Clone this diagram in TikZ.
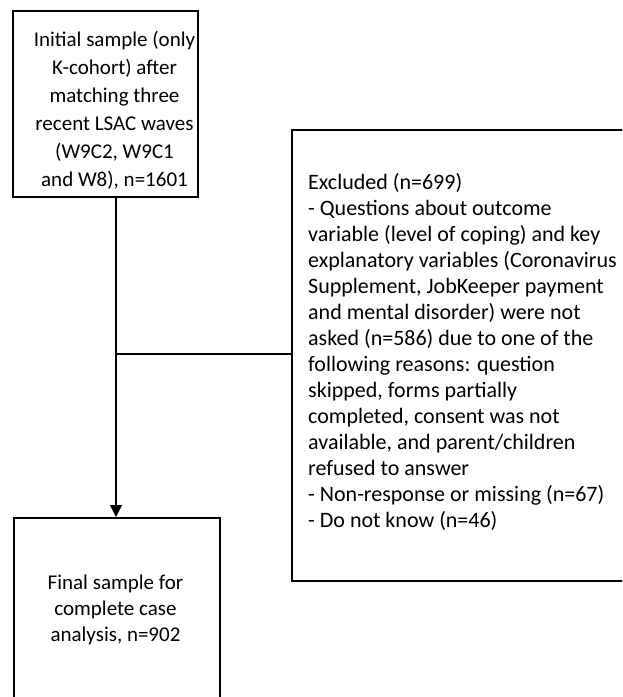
\documentclass[tikz,border=0pt]{standalone}
\usepackage{fontspec}
\setmainfont{Carlito}
\usetikzlibrary{arrows.meta}
\begin{document}
\begin{tikzpicture}[x=1pt,y=-1pt,
  box/.style={draw, line width=1.5pt, inner sep=0pt, rectangle},
  txt/.style={inner sep=0pt, font=\fontsize{21}{26}\selectfont},
  conn/.style={line width=1.4pt},
  arr/.style={conn, -{Triangle[width=12pt,length=12pt]}}]
\useasboundingbox (0,0) rectangle (622,697);
\clip (0,0) rectangle (622,697);
% boxes
\node[box, anchor=north west, minimum width=185pt, minimum height=186pt] (top) at (12,10) {};
\node[box, anchor=north west, minimum width=360pt, minimum height=451pt] (excl) at (291,129) {};
\node[box, anchor=north west, minimum width=206pt, minimum height=220pt] (final) at (13,517) {};
% texts
\node[txt, align=center, font=\fontsize{21}{28}\selectfont] (toptxt) at (114.5,110)
  {Initial sample (only\\K-cohort) after\\matching three\\recent LSAC waves\\(W9C2, W9C1\\and W8), n=1601};
\node[txt, align=left, anchor=north west, font=\fontsize{22}{26}\selectfont] (excltxt) at (308,173)
  {Excluded (n=699)\\
   - Questions about outcome\\
   variable (level of coping) and key\\
   explanatory variables (Coronavirus\\
   Supplement, JobKeeper payment\\
   and mental disorder) were not\\
   asked (n=586) due to one of the\\
   following reasons: question\\
   skipped, forms partially\\
   completed, consent was not\\
   available, and parent/children\\
   refused to answer\\
   - Non-response or missing (n=67)\\
   - Do not know (n=46)};
\node[txt, align=center] (finaltxt) at (115.5,610)
  {Final sample for\\complete case\\analysis, n=902};
% connectors
\coordinate (j) at (116,354);
\draw[arr] (top.south -| j) -- (final.north -| j);
\draw[conn] (j) -- (j -| excl.west);
\end{tikzpicture}
\end{document}
